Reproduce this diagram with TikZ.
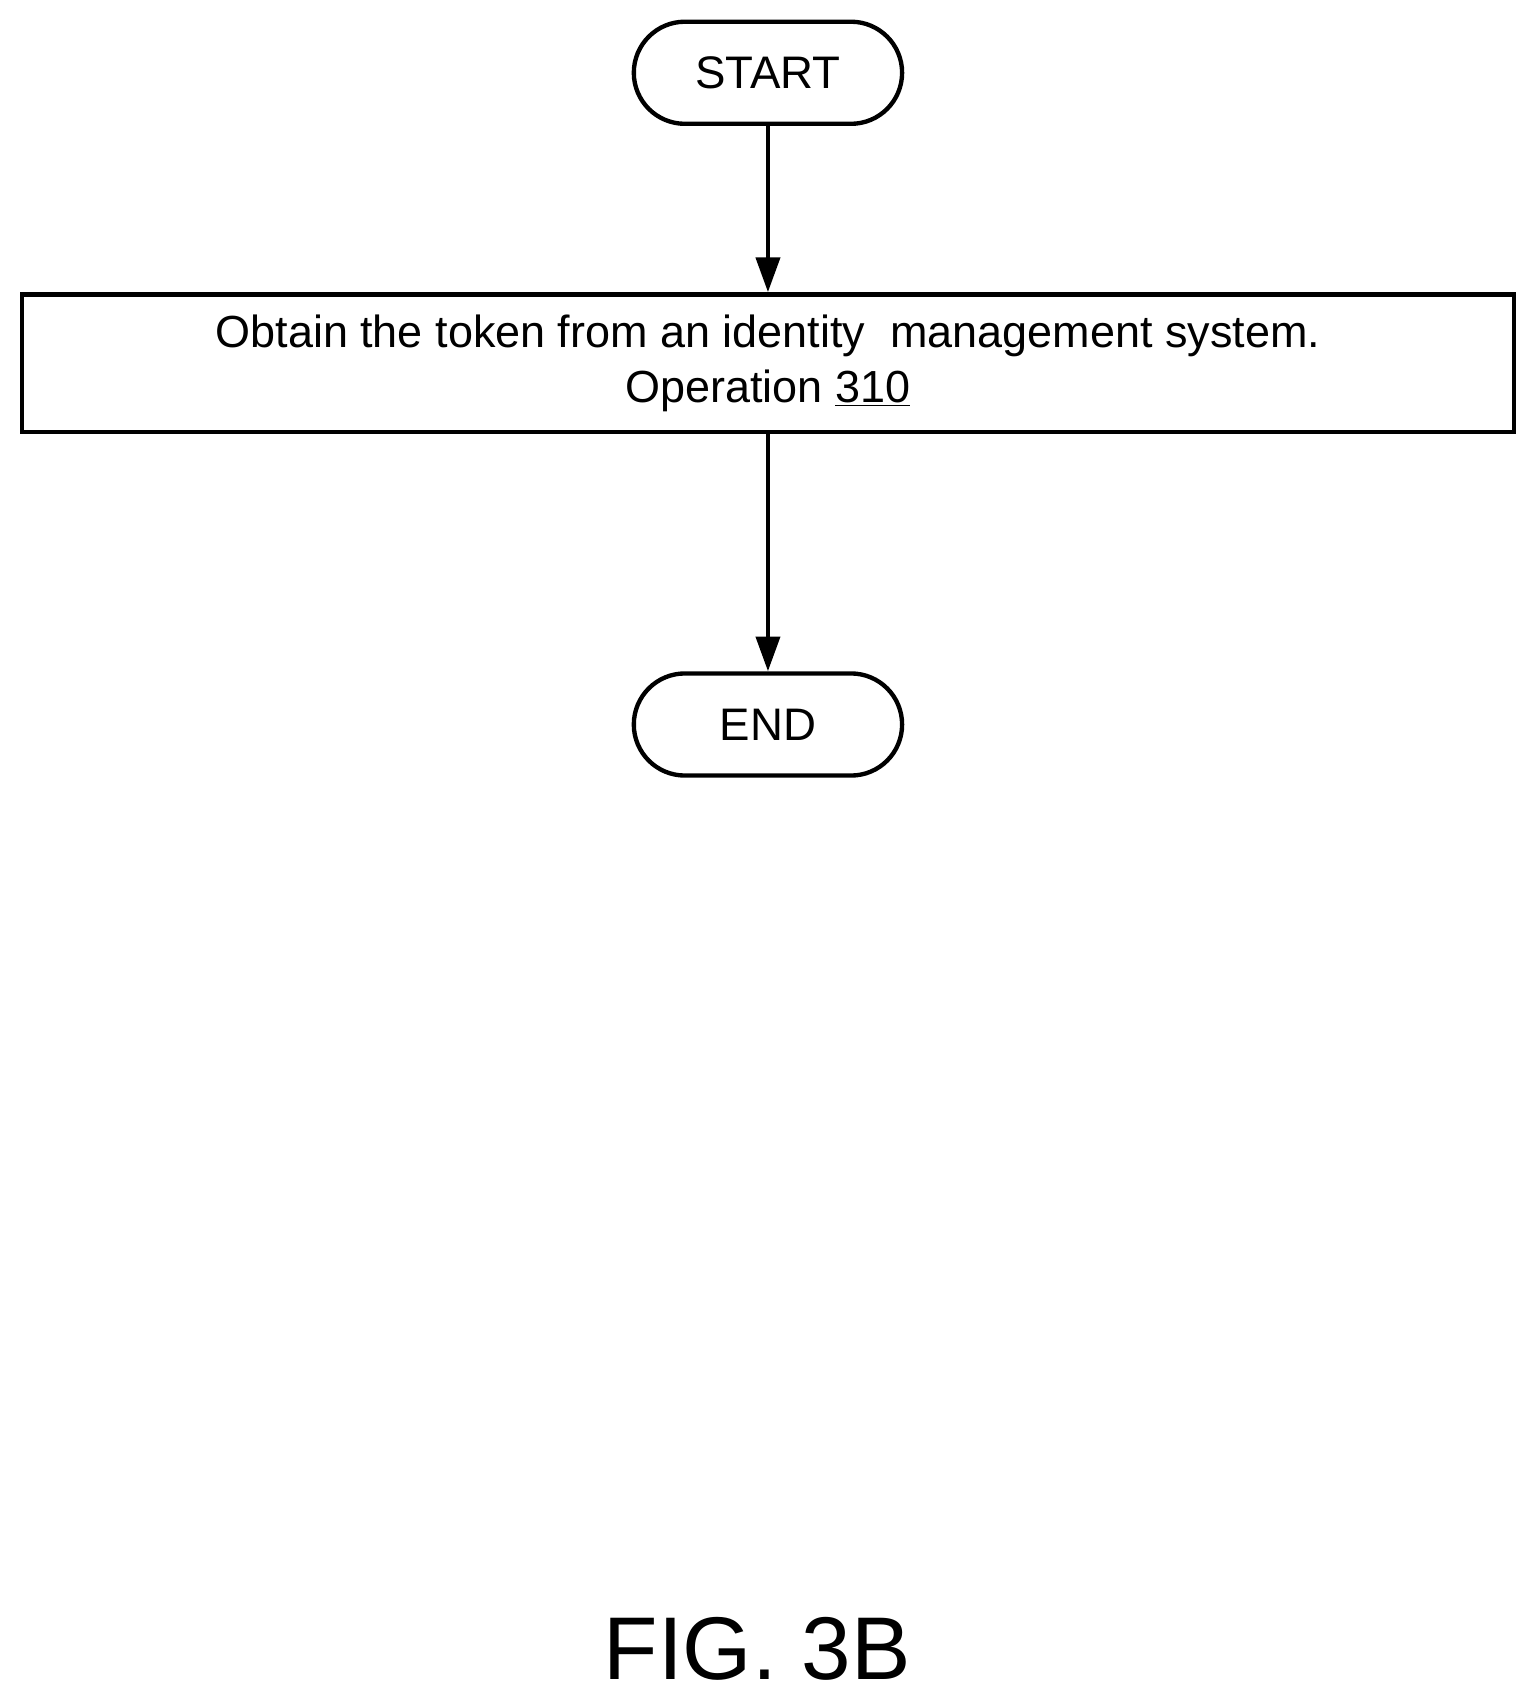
\documentclass[tikz,border=0pt]{standalone}
\usepackage{fontspec}
\setmainfont{Liberation Sans}
\usetikzlibrary{arrows.meta}
\begin{document}
\begin{tikzpicture}[x=0.5pt,y=-0.5pt,
  term/.style={draw,line width=2pt,rounded corners=23.5pt,minimum width=123.5pt,minimum height=47pt,font=\fontsize{21}{24}\selectfont,inner sep=0pt},
  op/.style={draw,line width=2pt,minimum width=687pt,minimum height=63.5pt,align=center,font=\fontsize{20.7}{25}\selectfont,inner sep=0pt},
  arr/.style={line width=2pt,-{Triangle[length=16pt,width=11pt]}}]
\useasboundingbox (0,0) rectangle (1414,1566);
\node[term] (start) at (707,67) {START};
\node[op] (op) at (707,334.5) {Obtain the token from an identity\ \ management system.\\Operation \underline{310}};
\node[term] (end) at (707,667) {END};
\draw[arr] (start) -- (op);
\draw[arr] (op) -- (end);
\node[font=\fontsize{41}{48}\selectfont] (fig) at (697,1518) {FIG. 3B};
\end{tikzpicture}
\end{document}
